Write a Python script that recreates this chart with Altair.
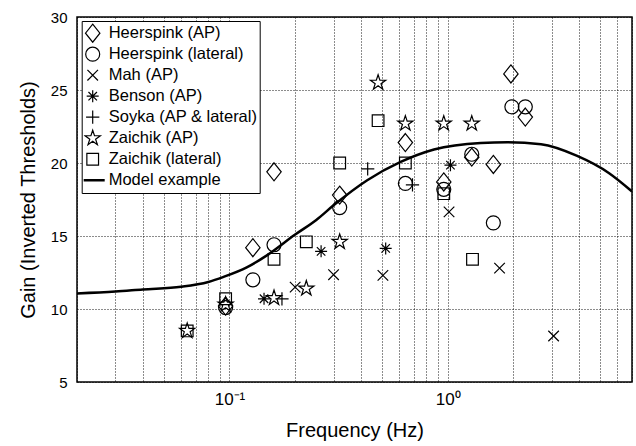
import altair as alt
import pandas as pd

# ---------------- data ----------------
series_names = ["Heerspink (AP)", "Heerspink (lateral)", "Mah (AP)", "Benson (AP)",
                "Soyka (AP & lateral)", "Zaichik (AP)", "Zaichik (lateral)"]
model_name = "Model example"

heerspink_ap_f = [0.096, 0.128, 0.16, 0.32, 0.64, 0.96, 1.29, 1.62, 1.95, 2.27]
heerspink_ap_g = [10.2, 14.2, 19.4, 17.8, 21.4, 18.7, 20.4, 19.9, 26.1, 23.15]

heerspink_lat_f = [0.096, 0.128, 0.16, 0.32, 0.64, 0.96, 1.29, 1.62, 1.97, 2.27]
heerspink_lat_g = [10.1, 12.0, 14.4, 16.95, 18.6, 18.2, 20.6, 15.9, 23.85, 23.85]

mah_f = [0.2, 0.3, 0.505, 1.015, 1.73, 3.06]
mah_g = [11.5, 12.35, 12.3, 16.65, 12.8, 8.15]

benson_f = [0.144, 0.263, 0.52, 1.03]
benson_g = [10.7, 13.95, 14.15, 19.85]

soyka_f = [0.174, 0.43, 0.69]
soyka_g = [10.7, 19.6, 18.5]

zaichik_ap_f = [0.064, 0.096, 0.16, 0.225, 0.32, 0.48, 0.64, 0.96, 1.29]
zaichik_ap_g = [8.5, 10.3, 10.75, 11.4, 14.6, 25.5, 22.7, 22.7, 22.7]

zaichik_lat_f = [0.064, 0.096, 0.16, 0.225, 0.32, 0.48, 0.64, 0.96, 1.3]
zaichik_lat_g = [8.5, 10.7, 13.4, 14.6, 20.0, 22.9, 20.0, 17.9, 13.4]

model_f = [0.02, 0.03, 0.04, 0.06, 0.08, 0.094, 0.12, 0.149, 0.2, 0.25, 0.30,
           0.428, 0.609, 0.866, 1.42, 1.883, 2.68, 3.9, 5.5, 7.0]
model_g = [11.07, 11.2, 11.34, 11.52, 11.85, 12.2, 12.85, 13.69, 15.1, 16.1, 17.1,
           18.82, 20.07, 20.92, 21.37, 21.42, 21.28, 20.5, 19.3, 18.05]

x_grid = [0.02, 0.03, 0.04, 0.05, 0.06, 0.07, 0.08, 0.09,
          0.1, 0.2, 0.3, 0.4, 0.5, 0.6, 0.7, 0.8, 0.9,
          1, 2, 3, 4, 5, 6, 7]
y_ticks = [5, 10, 15, 20, 25, 30]

# ---------------- marker shapes (styles) ----------------
star = ("M0,-1L0.2245,-0.309L0.951,-0.309L0.363,0.118L0.588,0.809L0,0.382"
        "L-0.588,0.809L-0.363,0.118L-0.951,-0.309L-0.2245,-0.309Z")
shape_paths = [
    "M0,-1.125L0.9,0L0,1.125L-0.9,0Z",                                   # diamond
    "M0.875,0A0.875,0.875,0,1,1,-0.875,0A0.875,0.875,0,1,1,0.875,0Z",     # circle
    "M-0.66,-0.66L0.66,0.66M-0.66,0.66L0.66,-0.66",                      # x
    "M-0.75,0L0.75,0M0,-0.75L0,0.75M-0.53,-0.53L0.53,0.53M-0.53,0.53L0.53,-0.53",  # asterisk
    "M-0.83,0L0.83,0M0,-0.83L0,0.83",                                    # plus
    star,                                                                # pentagram
    "M-0.73,-0.73L0.73,-0.73L0.73,0.73L-0.73,0.73Z",                     # square
    "M-1.5,0L1.5,0M-1.5,0.08L1.5,0.08M-1.5,-0.08L1.5,-0.08",             # model line
]

rows = []
for name, fs, gs in zip(series_names,
                        [heerspink_ap_f, heerspink_lat_f, mah_f, benson_f, soyka_f, zaichik_ap_f, zaichik_lat_f],
                        [heerspink_ap_g, heerspink_lat_g, mah_g, benson_g, soyka_g, zaichik_ap_g, zaichik_lat_g]):
    for f, g in zip(fs, gs):
        rows.append({"series": name, "freq": f, "gain": g})
points_df = pd.DataFrame(rows)
model_df = pd.DataFrame({"freq": model_f, "gain": model_g})

FONT = "Liberation Sans"

x_enc = alt.X("freq:Q",
              scale=alt.Scale(type="log", domain=[0.02, 7], nice=False),
              axis=alt.Axis(values=x_grid, title="Frequency (Hz)",
                            labelExpr="datum.value == 0.1 ? '10⁻¹' : (datum.value == 1 ? '10⁰' : '')",
                            labelFlush=False, labelPadding=9, titlePadding=13,
                            labelFontSize=17))
y_enc = alt.Y("gain:Q",
              scale=alt.Scale(domain=[5, 30], nice=False),
              axis=alt.Axis(values=y_ticks, title="Gain (Inverted Thresholds)",
                            labelPadding=10, titlePadding=12))

points = alt.Chart(points_df).mark_point(
    filled=False, color="black", strokeWidth=1.2, size=256, opacity=1
).encode(
    x=x_enc,
    y=y_enc,
    shape=alt.Shape("series:N",
                    scale=alt.Scale(domain=series_names + [model_name], range=shape_paths),
                    legend=alt.Legend(title=None, orient="none", legendX=4.7, legendY=4,
                                      fillColor="white", strokeColor="black",
                                      padding=2, rowPadding=0, clipHeight=20.4,
                                      symbolSize=256, symbolStrokeWidth=1.2,
                                      symbolStrokeColor="black", symbolFillColor="transparent",
                                      labelFont=FONT, labelFontSize=16.5, labelColor="black",
                                      labelOffset=7, labelLimit=400)),
)

model = alt.Chart(model_df).mark_line(
    color="black", strokeWidth=2.5, interpolate="monotone", clip=True
).encode(x="freq:Q", y="gain:Q")

chart = alt.layer(points, model).properties(
    width=555, height=365,
    autosize=alt.AutoSizeParams(type="none"),
    padding={"left": 77, "top": 17, "right": 4, "bottom": 64},
    background="white",
).configure_view(
    stroke="black", strokeWidth=1.5
).configure_axis(
    labelFont=FONT, titleFont=FONT, labelFontSize=15, titleFontSize=20,
    titleFontWeight="normal", labelColor="black", titleColor="black",
    domain=False, ticks=False,
    grid=True, gridColor="black", gridDash=[1, 2], gridWidth=1, gridOpacity=0.9,
)

chart.save("out.html", embed_options={"renderer": "svg", "actions": False})
